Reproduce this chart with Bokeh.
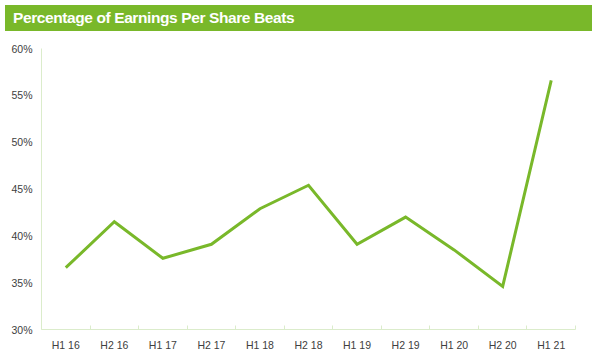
from bokeh.plotting import figure
from bokeh.models import Range1d, FixedTicker, PrintfTickFormatter, ColumnDataSource, Div
from bokeh.layouts import column
from bokeh.embed import file_html
from bokeh.resources import INLINE

title_text = "Percentage of Earnings Per Share Beats"
periods = ["H1 16", "H2 16", "H1 17", "H2 17", "H1 18", "H2 18",
           "H1 19", "H2 19", "H1 20", "H2 20", "H1 21"]
beats_pct = [36.6, 41.5, 37.6, 39.1, 42.9, 45.4, 39.1, 42.0, 38.5, 34.6, 56.6]
y_ticks = [30, 35, 40, 45, 50, 55, 60]

GREEN = "#79b82a"
AXIS = "#dbeccb"
TEXT = "#404040"
FONT = "Liberation Sans"

banner = Div(text=title_text, width=587, height=26,
             styles={"background-color": GREEN, "color": "white",
                     "font-family": FONT, "font-weight": "bold",
                     "font-size": "15.5px", "letter-spacing": "-0.4px",
                     "line-height": "26px",
                     "padding-left": "8px", "box-sizing": "border-box",
                     "width": "587px", "height": "26px"})

centers = [i + 0.5 for i in range(len(periods))]
bounds = [float(i) for i in range(len(periods) + 1)]
src = ColumnDataSource(dict(x=centers, y=beats_pct))

p = figure(width=587, height=323, toolbar_location=None, output_backend="svg",
           x_range=Range1d(0, len(periods)), y_range=Range1d(y_ticks[0], y_ticks[-1]),
           min_border_left=41, min_border_right=12, min_border_top=12, min_border_bottom=30)
p.outline_line_color = None
p.grid.visible = False
p.line("x", "y", source=src, line_color=GREEN, line_width=3, line_join="miter")

xa = p.xaxis[0]
xa.ticker = FixedTicker(ticks=centers, minor_ticks=bounds)
xa.major_label_overrides = {c: lab for c, lab in zip(centers, periods)}
xa.major_tick_line_color = None
xa.major_tick_out = 0
xa.major_tick_in = 0
xa.minor_tick_in = 4
xa.minor_tick_out = 0
xa.minor_tick_line_color = AXIS
xa.axis_line_color = AXIS
xa.major_label_text_font = FONT
xa.major_label_text_font_size = "10.5px"
xa.major_label_text_color = TEXT
xa.major_label_standoff = 9

ya = p.yaxis[0]
ya.ticker = FixedTicker(ticks=y_ticks)
ya.formatter = PrintfTickFormatter(format="%d%%")
ya.major_tick_line_color = None
ya.major_tick_out = 0
ya.major_tick_in = 0
ya.minor_tick_line_color = None
ya.minor_tick_out = 0
ya.axis_line_color = AXIS
ya.major_label_text_font = FONT
ya.major_label_text_font_size = "10.5px"
ya.major_label_text_color = TEXT
ya.major_label_standoff = 9

layout = column(banner, p, spacing=0)
open("out.html", "w").write(file_html(layout, INLINE))
